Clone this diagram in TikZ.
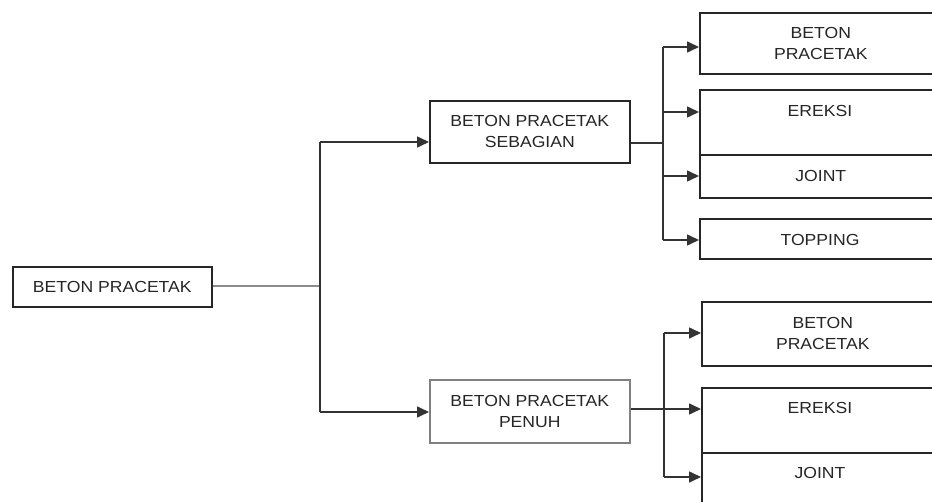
\documentclass[tikz,border=0pt]{standalone}
\usepackage{fontspec}
\setmainfont[FakeStretch=1.1]{Liberation Sans}
\usetikzlibrary{arrows.meta,calc}
\begin{document}
\begin{tikzpicture}[x=1pt,y=-1pt,
  box/.style={draw=black!85,line width=1.6pt,fill=white,rectangle,inner sep=0pt,anchor=north west},
  txt/.style={text=black!85,font=\fontsize{16}{21}\selectfont,align=center,inner sep=0pt},
  con/.style={draw=black!80,line width=1.6pt},
  arr/.style={con,-{Triangle[length=12pt,width=11pt]}},
  lcon/.style={draw=black!45,line width=1.6pt}]
\fill[white] (0,0) rectangle (932,502);
\clip (0,0) rectangle (932,502);
% root
\node[box,minimum width=199pt,minimum height=40pt] (root) at (12,266) {};
\node[txt] (roott) at (root.center) {BETON PRACETAK};
% level 2
\node[box,minimum width=200pt,minimum height=62pt] (seb) at (429,100) {};
\node[txt] (sebt) at (seb.center) {BETON PRACETAK\\SEBAGIAN};
\node[box,draw=black!50,minimum width=200pt,minimum height=63pt] (pen) at (429,379) {};
\node[txt] (pent) at (pen.center) {BETON PRACETAK\\PENUH};
% upper right
\node[box,minimum width=242pt,minimum height=61pt] (u1) at (699,12) {};
\node[txt] (u1t) at (u1.center) {BETON\\PRACETAK};
\node[box,minimum width=242pt,minimum height=65pt] (u2) at (699,89) {};
\node[txt] (u2t) at (820,111) {EREKSI};
\node[box,minimum width=242pt,minimum height=43pt] (u3) at (699,154) {};
\node[txt] (u3t) at (u3.center) {JOINT};
\node[box,minimum width=242pt,minimum height=40pt] (u4) at (699,218) {};
\node[txt] (u4t) at (820,240) {TOPPING};
% lower right
\node[box,minimum width=242pt,minimum height=64pt] (l1) at (701,301) {};
\node[txt] (l1t) at (l1.center) {BETON\\PRACETAK};
\node[box,minimum width=242pt,minimum height=65pt] (l2) at (701,387) {};
\node[txt] (l2t) at (820,408) {EREKSI};
\node[box,minimum width=242pt,minimum height=60pt] (l3) at (701,452) {};
\node[txt] (l3t) at (820,473) {JOINT};
% junction coordinates
\coordinate (j0) at (320,286);
\coordinate (j0t) at (320,142);
\coordinate (j0b) at (320,412);
\coordinate (j1) at (663,143);
\coordinate (j1t) at (663,47);
\coordinate (j1e) at (663,112);
\coordinate (j1j) at (663,176);
\coordinate (j1b) at (663,240);
\coordinate (j2t) at (664,333);
\coordinate (j2e) at (664,409);
\coordinate (j2b) at (664,477);
% root connectors
\draw[lcon] (root.east |- j0) -- (j0);
\draw[con] (j0t) -- (j0b);
\draw[arr] (j0t) -- (seb.west |- j0t);
\draw[arr] (j0b) -- (pen.west |- j0b);
% upper connectors
\draw[con] (seb.east |- j1) -- (j1);
\draw[con] (j1t) -- (j1b);
\draw[arr] (j1t) -- (u1.west |- j1t);
\draw[arr] (j1e) -- (u2.west |- j1e);
\draw[arr] (j1j) -- (u3.west |- j1j);
\draw[arr] (j1b) -- (u4.west |- j1b);
% lower connectors
\draw[con] (j2t) -- (j2b);
\draw[arr] (j2t) -- (l1.west |- j2t);
\draw[arr] (pen.east |- j2e) -- (l2.west |- j2e);
\draw[arr] (j2b) -- (l3.west |- j2b);
\end{tikzpicture}
\end{document}
